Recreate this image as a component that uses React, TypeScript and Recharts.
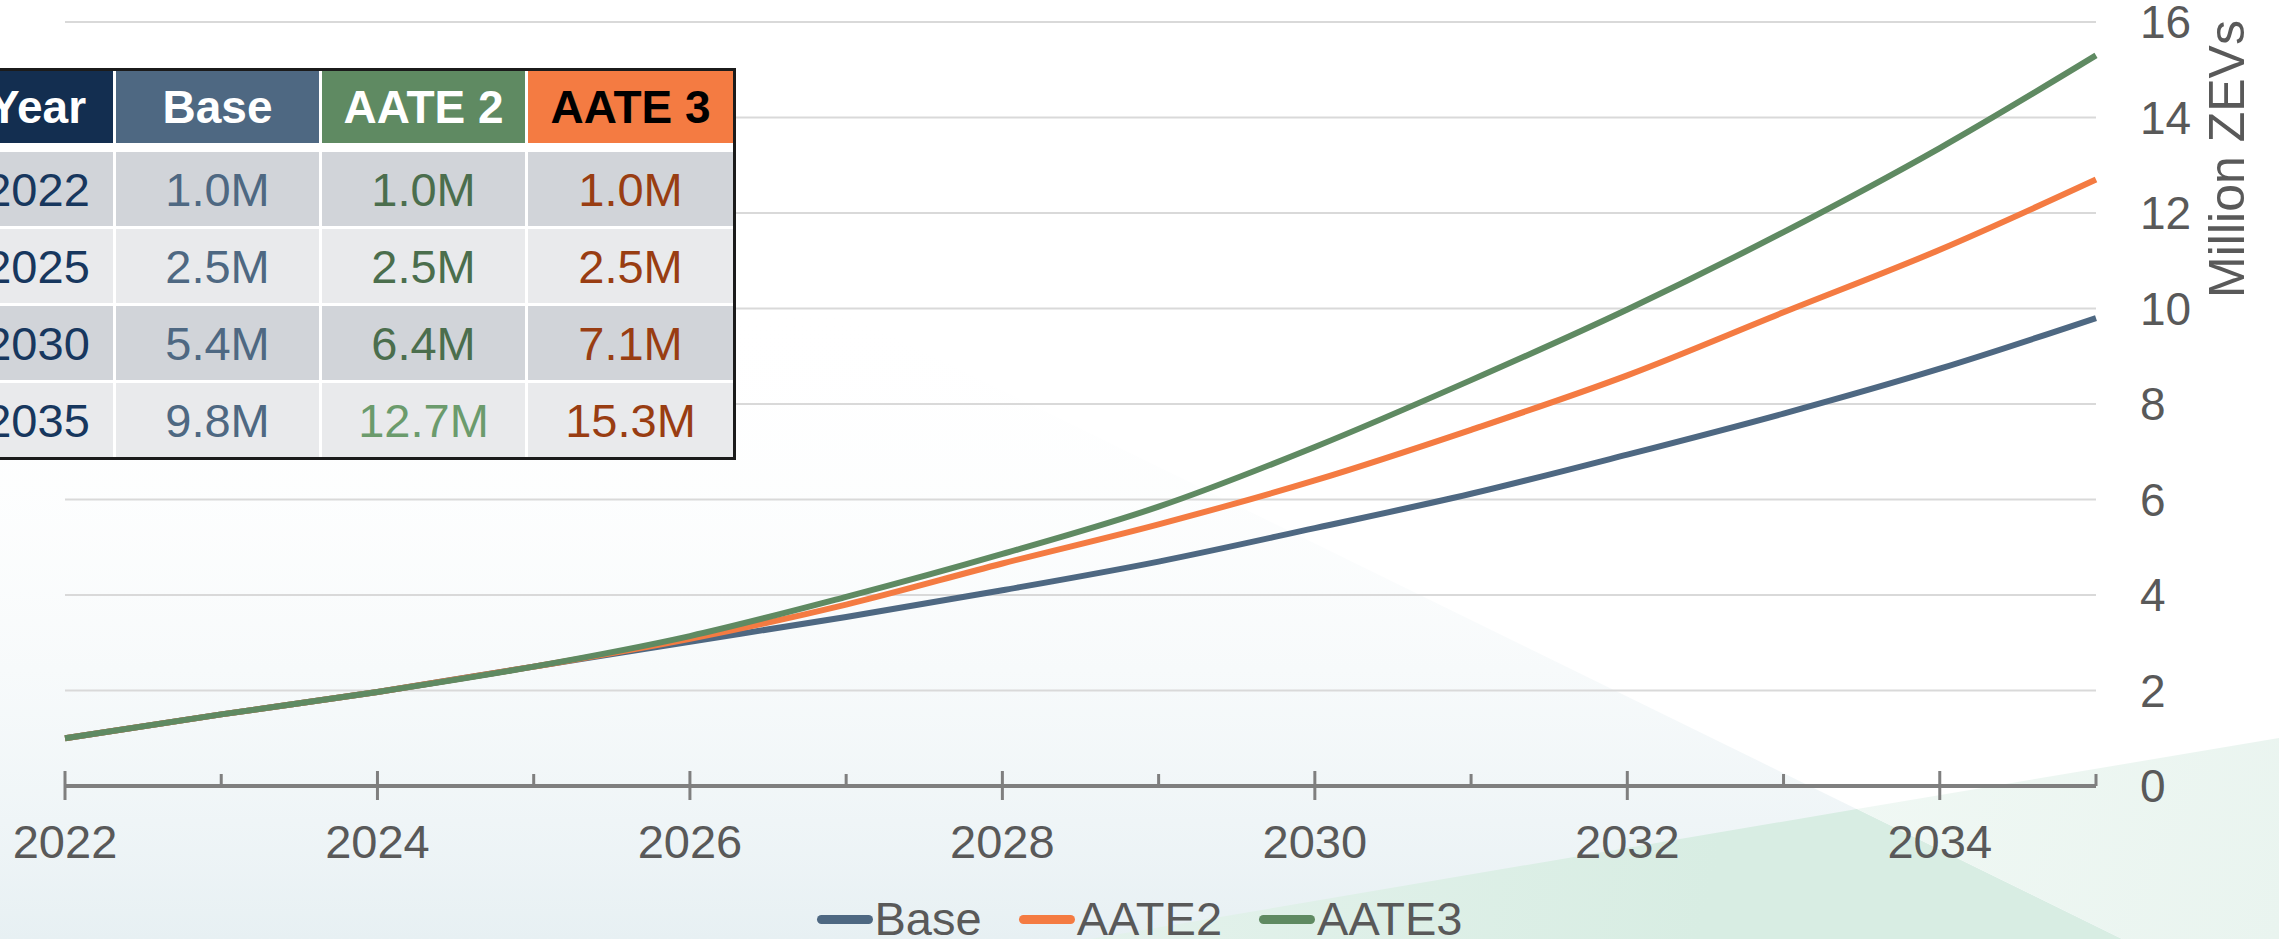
import React from 'react';
import { LineChart, Line, XAxis, YAxis, CartesianGrid, Label } from 'recharts';

// ---- data ----
const years = [2022, 2023, 2024, 2025, 2026, 2027, 2028, 2029, 2030, 2031, 2032, 2033, 2034, 2035];
const baseValues = [1.0, 1.5, 1.97, 2.5, 3.02, 3.54, 4.1, 4.7, 5.4, 6.12, 6.94, 7.8, 8.74, 9.8];
const aate2Values = [1.0, 1.5, 1.97, 2.5, 3.08, 3.8, 4.66, 5.48, 6.4, 7.46, 8.6, 9.92, 11.23, 12.7];
const aate3Values = [1.0, 1.5, 1.97, 2.5, 3.14, 3.96, 4.86, 5.85, 7.1, 8.5, 9.98, 11.6, 13.36, 15.3];

const yTicks = [0, 2, 4, 6, 8, 10, 12, 14, 16];
const tableYears = [2022, 2025, 2030, 2035];

const seriesKeys = ['base', 'aate2', 'aate3'];
const seriesNames = ['Base', 'AATE2', 'AATE3'];
const seriesColors = ['#4E6882', '#F47B42', '#5F8A62'];

const tableHeaders = ['Year', 'Base', 'AATE 2', 'AATE 3'];
const headerFills = ['#132E50', '#4E6882', '#5F8A62', '#F47B42'];
const headerTextColors = ['#FFFFFF', '#FFFFFF', '#FFFFFF', '#000000'];
const rowFills = ['#D1D4D9', '#E9EAEC', '#D1D4D9', '#E9EAEC'];
const yearTextColor = '#17375E';
const baseTextColor = '#4E6882';
const aate2TextColors = ['#4B6E4D', '#4B6E4D', '#4B6E4D', '#6B9B6C'];
const aate3TextColor = '#993D12';

const FONT = '"Liberation Sans", Arial, Helvetica, sans-serif';
const TEXT_GREY = '#595959';
const AXIS_GREY = '#7F7F7F';

const chartData = years.map((year, i) => ({
  year,
  base: baseValues[i],
  aate2: aate2Values[i],
  aate3: aate3Values[i],
}));

const fmtM = (v: number) => `${v.toFixed(1)}M`;

const tableRows = tableYears.map((yr) => {
  const i = years.indexOf(yr);
  return [String(yr), fmtM(baseValues[i]), fmtM(aate2Values[i]), fmtM(aate3Values[i])];
});

// ---- axis pieces ----
function YearTick(props: any) {
  const { x, y, payload } = props;
  const yr = payload.value as number;
  const major = yr % 2 === 0;
  return (
    <g>
      <line x1={x} x2={x} y1={major ? y - 15 : y - 12} y2={major ? y + 14 : y} stroke={AXIS_GREY} strokeWidth={3} />
      {major && yr !== 2035 ? (
        <text x={x} y={y + 72} textAnchor="middle" fill={TEXT_GREY} fontSize={47} fontFamily={FONT}>
          {yr}
        </text>
      ) : null}
    </g>
  );
}

function AxisTitle(props: any) {
  const vb = props.viewBox || { x: 2096, y: 22 };
  const bx = vb.x + 148;
  const by = vb.y + 137;
  return (
    <text
      x={bx}
      y={by}
      transform={`rotate(-90 ${bx} ${by})`}
      textAnchor="middle"
      fill={TEXT_GREY}
      fontSize={50}
      fontFamily={FONT}
    >
      Million ZEVs
    </text>
  );
}

// ---- backdrop shapes ----
function Backdrop() {
  return (
    <svg width={2279} height={939} style={{ position: 'absolute', left: 0, top: 0 }}>
      <defs>
        <linearGradient id="hazeLeft" x1="0" y1="300" x2="0" y2="939" gradientUnits="userSpaceOnUse">
          <stop offset="0" stopColor="#FFFFFF" stopOpacity="0" />
          <stop offset="1" stopColor="#E7F0F3" stopOpacity="1" />
        </linearGradient>
        <linearGradient id="mintDark" x1="1090" y1="800" x2="1700" y2="939" gradientUnits="userSpaceOnUse">
          <stop offset="0" stopColor="#E4F2EC" />
          <stop offset="1" stopColor="#D8EDE3" />
        </linearGradient>
        <linearGradient id="mintLight" x1="1857" y1="760" x2="2279" y2="939" gradientUnits="userSpaceOnUse">
          <stop offset="0" stopColor="#F0F8F4" />
          <stop offset="1" stopColor="#E9F4EF" />
        </linearGradient>
      </defs>
      <polygon points="0,300 818,300 2122,939 0,939" fill="url(#hazeLeft)" />
      <polygon points="1090,939 1857,809 2122,939" fill="url(#mintDark)" />
      <polygon points="1857,809 2279,738 2279,939 2122,939" fill="url(#mintLight)" />
    </svg>
  );
}

// ---- summary table ----
function SummaryTable() {
  const colWidths = [151, 203, 203, 205];
  const cellBase: React.CSSProperties = {
    display: 'flex',
    alignItems: 'center',
    justifyContent: 'center',
    fontFamily: FONT,
    whiteSpace: 'nowrap',
    overflow: 'visible',
  };
  const dataColor = (r: number, c: number) =>
    c === 0 ? yearTextColor : c === 1 ? baseTextColor : c === 2 ? aate2TextColors[r] : aate3TextColor;
  return (
    <div
      style={{
        position: 'absolute',
        left: -41,
        top: 68,
        border: '3px solid #1B1B1B',
        background: '#FFFFFF',
        display: 'grid',
        gridTemplateColumns: colWidths.map((w) => `${w}px`).join(' '),
        gridTemplateRows: '78px 74px 74px 74px 74px',
        columnGap: 3,
        rowGap: 3,
      }}
    >
      {tableHeaders.map((h, c) => (
        <div
          key={`h${c}`}
          style={{
            ...cellBase,
            height: 72,
            alignSelf: 'start',
            background: headerFills[c],
            color: headerTextColors[c],
            fontWeight: 700,
            fontSize: 46,
          }}
        >
          {h}
        </div>
      ))}
      {tableRows.map((row, r) =>
        row.map((cell, c) => (
          <div key={`r${r}c${c}`} style={{ ...cellBase, background: rowFills[r], color: dataColor(r, c), fontSize: 47 }}>
            {cell}
          </div>
        ))
      )}
    </div>
  );
}

// ---- legend ----
function SeriesLegend() {
  return (
    <div
      style={{
        position: 'absolute',
        left: 0,
        top: 892,
        width: 2279,
        display: 'flex',
        justifyContent: 'center',
        alignItems: 'center',
        gap: 37,
        fontFamily: FONT,
        fontSize: 47,
        color: TEXT_GREY,
        lineHeight: '54px',
      }}
    >
      {seriesNames.map((name, i) => (
        <div key={name} style={{ display: 'flex', alignItems: 'center' }}>
          <span
            style={{
              display: 'inline-block',
              width: 56,
              height: 9,
              borderRadius: 5,
              background: seriesColors[i],
              marginRight: 2,
            }}
          />
          <span>{name}</span>
        </div>
      ))}
    </div>
  );
}

export default function App() {
  return (
    <div
      style={{
        position: 'absolute',
        left: 0,
        top: 0,
        width: 2279,
        height: 939,
        overflow: 'hidden',
        background: '#FFFFFF',
      }}
    >
      <Backdrop />
      <div style={{ position: 'absolute', left: 0, top: 0 }}>
        <LineChart width={2279} height={939} data={chartData} margin={{ top: 22, right: 0, bottom: 0, left: 65 }}>
          <CartesianGrid vertical={false} stroke="#D9D9D9" strokeWidth={2} />
          <XAxis
            dataKey="year"
            type="number"
            domain={[2022, 2035]}
            ticks={years}
            interval={0}
            height={153}
            tickSize={0}
            tickMargin={0}
            tickLine={false}
            axisLine={{ stroke: AXIS_GREY, strokeWidth: 4 }}
            tick={<YearTick />}
          />
          <YAxis
            orientation="right"
            width={183}
            domain={[0, 16]}
            ticks={yTicks}
            interval={0}
            axisLine={false}
            tickLine={false}
            tickSize={0}
            tickMargin={44}
            tick={{ fill: TEXT_GREY, fontSize: 46, fontFamily: FONT }}
          >
            <Label value="Million ZEVs" content={<AxisTitle />} />
          </YAxis>
          {seriesKeys.map((k, i) => (
            <Line
              key={k}
              type="monotone"
              dataKey={k}
              name={seriesNames[i]}
              stroke={seriesColors[i]}
              strokeWidth={6}
              dot={false}
              activeDot={false}
              isAnimationActive={false}
            />
          ))}
        </LineChart>
      </div>
      <SummaryTable />
      <SeriesLegend />
    </div>
  );
}
